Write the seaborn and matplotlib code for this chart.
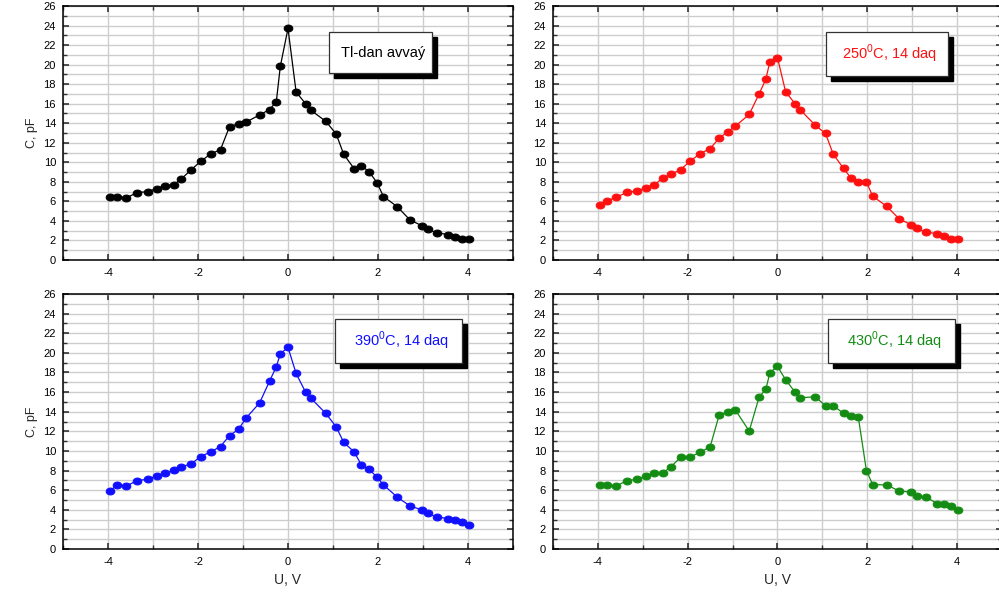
import numpy as np
import pandas as pd
import matplotlib
matplotlib.use("Agg")
import matplotlib.pyplot as plt
from matplotlib.path import Path
from matplotlib.patches import Rectangle
from matplotlib.ticker import MultipleLocator
import seaborn as sns

# Bias voltage, V
U = [-3.95, -3.80, -3.60, -3.35, -3.12, -2.92, -2.74, -2.54, -2.37, -2.16,
     -1.94, -1.72, -1.50, -1.30, -1.10, -0.94, -0.63, -0.41, -0.26, -0.17,
     0.00, 0.18, 0.39, 0.50, 0.84, 1.07, 1.24, 1.47, 1.63, 1.80,
     1.98, 2.12, 2.43, 2.71, 2.98, 3.10, 3.30, 3.56, 3.71, 3.87, 4.02]

# Capacitance, pF
C_before = [6.45, 6.5, 6.35, 6.9, 7.0, 7.3, 7.6, 7.7, 8.3, 9.2,
            10.1, 10.85, 11.3, 13.65, 13.95, 14.1, 14.85, 15.4, 16.2, 19.85,
            23.7, 17.2, 16.0, 15.35, 14.2, 12.9, 10.8, 9.35, 9.65, 9.05,
            7.9, 6.5, 5.45, 4.1, 3.5, 3.15, 2.8, 2.6, 2.4, 2.15, 2.15]
C_250 = [5.6, 6.05, 6.4, 6.93, 7.07, 7.4, 7.72, 8.43, 8.77, 9.25,
         10.13, 10.9, 11.4, 12.47, 13.15, 13.7, 14.9, 17.0, 18.5, 20.3,
         20.7, 17.23, 16.0, 15.4, 13.8, 12.95, 10.84, 9.38, 8.43, 8.02,
         7.99, 6.53, 5.5, 4.21, 3.6, 3.23, 2.86, 2.69, 2.48, 2.2, 2.2]
C_390 = [5.92, 6.54, 6.4, 6.98, 7.11, 7.42, 7.73, 8.03, 8.41, 8.65,
         9.43, 9.9, 10.45, 11.57, 12.19, 13.31, 14.9, 17.12, 18.58, 19.91,
         20.56, 17.9, 16.0, 15.42, 13.82, 12.46, 10.86, 9.9, 8.58, 8.13,
         7.32, 6.54, 5.28, 4.39, 3.98, 3.64, 3.27, 3.1, 2.93, 2.76, 2.48]
C_430 = [6.5, 6.57, 6.4, 6.98, 7.11, 7.42, 7.73, 7.79, 8.41, 9.33,
         9.39, 9.87, 10.42, 13.65, 13.99, 14.19, 12.02, 15.49, 16.27, 17.97,
         18.62, 17.26, 16.0, 15.42, 15.52, 14.6, 14.6, 13.85, 13.61, 13.44,
         8.0, 6.57, 6.53, 5.92, 5.79, 5.38, 5.31, 4.63, 4.56, 4.36, 3.98]

labels = ["Tl-dan avvaý", "250$^0$C, 14 daq", "390$^0$C, 14 daq", "430$^0$C, 14 daq"]
colors = ["#000000", "#ff1010", "#1010ff", "#148c14"]
series = [C_before, C_250, C_390, C_430]

sns.set_theme(style="white")
plt.rcParams["font.family"] = ["Liberation Sans", "DejaVu Sans"]
plt.rcParams["axes.unicode_minus"] = False
plt.rcParams["mathtext.fontset"] = "custom"
plt.rcParams["mathtext.rm"] = "Liberation Sans"

W, H = 999, 594
fig = plt.figure(figsize=(W / 100, H / 100), dpi=100)
fig.patch.set_facecolor("white")


def px_rect(x0, y0, x1, y1):
    return [x0 / W, 1 - y1 / H, (x1 - x0) / W, (y1 - y0) / H]


# slightly flattened dot marker
t = np.linspace(0, 2 * np.pi, 40)
oval = Path(np.column_stack([np.cos(t), 0.8 * np.sin(t)]), closed=True)

axes_px = [(63, 6, 513, 260), (553, 6, 1002, 260),
           (63, 294, 513, 549), (553, 294, 1002, 549)]
boxes_px = [(329, 32, 432, 73), (826, 32, 948, 76),
            (335, 319, 462, 363), (828, 319, 955, 363)]

for i, (rect, box, lab, col, C) in enumerate(zip(axes_px, boxes_px, labels, colors, series)):
    ax = fig.add_axes(px_rect(*rect))
    df = pd.DataFrame({"U": U, "C": C})
    sns.lineplot(data=df, x="U", y="C", ax=ax, sort=False, estimator=None,
                 color=col, lw=0.9, marker=oval, markersize=6.2,
                 markeredgecolor=col, markerfacecolor=col, zorder=3)
    ax.set_xlim(-5, 5)
    ax.set_ylim(0, 26)
    ax.xaxis.set_major_locator(MultipleLocator(2))
    ax.xaxis.set_minor_locator(MultipleLocator(1))
    ax.yaxis.set_major_locator(MultipleLocator(2))
    ax.yaxis.set_minor_locator(MultipleLocator(1))
    ax.grid(which="both", color="#cdcdcd", lw=1.0)
    ax.set_axisbelow(True)
    ax.tick_params(which="both", direction="in", top=True, right=True,
                   bottom=True, left=True, colors="#333333",
                   labelcolor="black", labelsize=8)
    ax.tick_params(which="major", length=4, width=1.2)
    ax.tick_params(which="minor", length=3, width=1.0)
    ax.tick_params(axis="x", pad=6)
    ax.tick_params(axis="y", pad=5)
    for s in ax.spines.values():
        s.set_color("black")
        s.set_linewidth(1.1)
    ax.set_xlabel("U, V" if i >= 2 else "", fontsize=10, labelpad=4)
    ax.set_ylabel("C, pF" if i % 2 == 0 else "", fontsize=9, labelpad=4)

    # caption box with a drop shadow
    x0, y0, x1, y1 = box
    bw, bh = (x1 - x0) / W, (y1 - y0) / H
    fig.add_artist(Rectangle(((x0 + 5) / W, 1 - (y1 + 5) / H), bw, bh,
                             transform=fig.transFigure, facecolor="black",
                             edgecolor="black", zorder=5))
    fig.add_artist(Rectangle((x0 / W, 1 - y1 / H), bw, bh,
                             transform=fig.transFigure, facecolor="white",
                             edgecolor="#333333", lw=0.9, zorder=6))
    fig.text((x0 + x1) / 2 / W + 0.003, 1 - (y0 + y1) / 2 / H, lab, color=col,
             fontsize=10.5, ha="center", va="center", zorder=7)

fig.savefig("out.png", dpi=100, facecolor="white")
